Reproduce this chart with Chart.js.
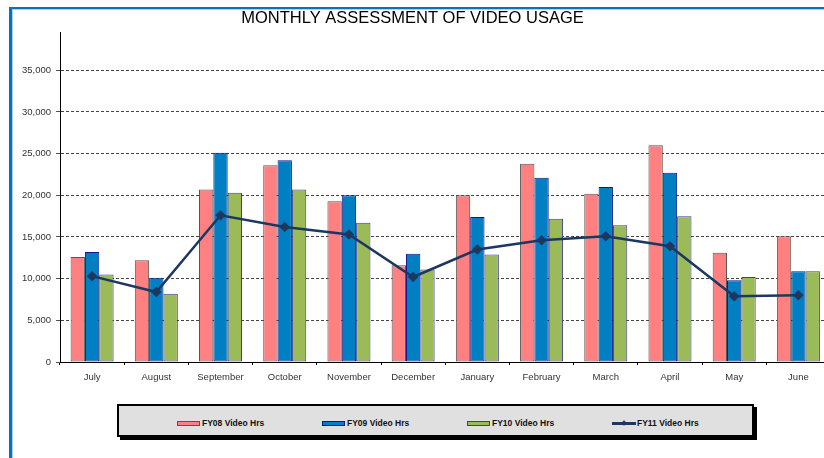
<!DOCTYPE html>
<html>
<head>
<meta charset="utf-8">
<script src="https://cdn.jsdelivr.net/npm/chart.js@4.4.1/dist/chart.umd.min.js"></script>
<style>
  body { margin: 0; width: 824px; height: 458px; overflow: hidden; background: #fff; position: relative; font-family: "Liberation Sans", Arial, sans-serif; }
  .frame { position: absolute; left: 9px; top: 7px; width: 900px; height: 600px; border-left: 3px solid #0a71c0; border-top: 2px solid #0a71c0; box-shadow: inset 1px 1px 0 #a9d0f0; }
  .wrap { position: absolute; left: -8px; top: 0; width: 845px; height: 395px; }
  .legend { position: absolute; left: 117px; top: 404px; width: 633px; height: 29px; border: 2px solid #000; background: #e0e0e0; box-shadow: 3px 3px 0 #000; }
  .legend .item { position: absolute; top: 12px; height: 10px; display: flex; align-items: center; font-size: 8.5px; font-weight: bold; color: #111; white-space: nowrap; }
  .legend .sw { width: 21px; height: 3px; margin-right: 2px; }
  .legend .ln { position: relative; width: 24px; height: 3px; margin-right: 1px; }
  .legend .ln i { position: absolute; left: 10px; top: -1px; width: 4px; height: 4px; transform: rotate(45deg); }
</style>
</head>
<body>
<div class="frame"></div>
<div class="wrap"><canvas id="chart"></canvas></div>
<div class="legend" id="legend"></div>
<script>
// ============================
// DATA
// ============================
const months = ["July", "August", "September", "October", "November", "December",
  "January", "February", "March", "April", "May", "June"];
const fy08 = [12600, 12200, 20700, 23600, 19300, 11600, 20000, 23800, 20200, 26000, 13100, 15100];
const fy09 = [13200, 10100, 25100, 24200, 20000, 13000, 17400, 22100, 21000, 22700, 9800, 10900];
const fy10 = [10500, 8200, 20300, 20700, 16700, 11100, 12900, 17200, 16400, 17500, 10200, 10900];
const fy11 = [10300, 8400, 17600, 16200, 15300, 10200, 13500, 14600, 15100, 13900, 7900, 8000];
const yTicks = [0, 5000, 10000, 15000, 20000, 25000, 30000, 35000];

const font = "'Liberation Sans', Arial, sans-serif";

// ============================
// CHART
// ============================
const ctx = document.getElementById("chart").getContext("2d");
const chart = new Chart(ctx, {
  data: {
    labels: months,
    datasets: [
      { type: "line", label: "FY11 Video Hrs", data: fy11, order: 0,
        borderColor: "#1c3861", backgroundColor: "#1c3861", borderWidth: 2.5,
        pointStyle: "rectRot", pointRadius: 3.5, pointBackgroundColor: "#1c3861", tension: 0 },
      { type: "bar", label: "FY08 Video Hrs", data: fy08, order: 1,
        backgroundColor: "#ff8080", borderColor: "#555", borderWidth: 1, borderSkipped: false },
      { type: "bar", label: "FY09 Video Hrs", data: fy09, order: 1,
        backgroundColor: "#007fc2", borderColor: "#14148a", borderWidth: 1, borderSkipped: false },
      { type: "bar", label: "FY10 Video Hrs", data: fy10, order: 1,
        backgroundColor: "#9bbb59", borderColor: "#3c3c9c", borderWidth: 1, borderSkipped: false }
    ]
  },
  options: {
    responsive: true,
    maintainAspectRatio: false,
    animation: false,
    layout: { padding: { left: 0, right: 4, top: 0, bottom: 0 } },
    datasets: { bar: { categoryPercentage: 0.67, barPercentage: 1 } },
    plugins: {
      legend: { display: false },
      tooltip: { enabled: false },
      title: {
        display: true,
        text: "MONTHLY ASSESSMENT OF VIDEO USAGE",
        color: "#000",
        font: { family: font, size: 16.5, weight: "normal" },
        padding: { top: 9, bottom: 4 }
      }
    },
    scales: {
      x: {
        offset: true,
        grid: { offset: true, drawOnChartArea: false, drawTicks: true, tickLength: 3, color: "#000" },
        border: { display: true, color: "#000", width: 1 },
        ticks: { color: "#333", padding: 7, maxRotation: 0, autoSkip: false, font: { family: font, size: 9.5 } },
        afterFit: s => { s.height = 33; }
      },
      y: {
        min: 0,
        max: 39500,
        grid: { color: "#444", lineWidth: 1, tickLength: 4, tickBorderDash: [], tickColor: "#555" },
        border: { display: true, color: "#000", width: 1, dash: [3, 2] },
        ticks: {
          stepSize: 5000, color: "#333", padding: 5,
          font: { family: font, size: 9.5 },
          callback: v => v.toLocaleString("en-US")
        },
        afterBuildTicks: s => { s.ticks = yTicks.map(v => ({ value: v })); },
        afterFit: s => { s.width = 68; }
      }
    }
  }
});

// ============================
// LEGEND (from the chart's datasets)
// ============================
const legend = document.getElementById("legend");
const legendOrder = [1, 2, 3, 0];
legendOrder.forEach((di, i) => {
  const ds = chart.data.datasets[di];
  const item = document.createElement("div");
  item.className = "item";
  item.style.left = (58 + i * 145) + "px";
  if (ds.type === "line") {
    item.innerHTML = '<span class="ln" style="background:' + ds.borderColor + '"><i style="background:' + ds.borderColor + '"></i></span>';
  } else {
    item.innerHTML = '<span class="sw" style="background:' + ds.backgroundColor + ';border:1px solid ' + ds.borderColor + '"></span>';
  }
  item.appendChild(document.createTextNode(ds.label));
  legend.appendChild(item);
});
</script>
</body>
</html>
